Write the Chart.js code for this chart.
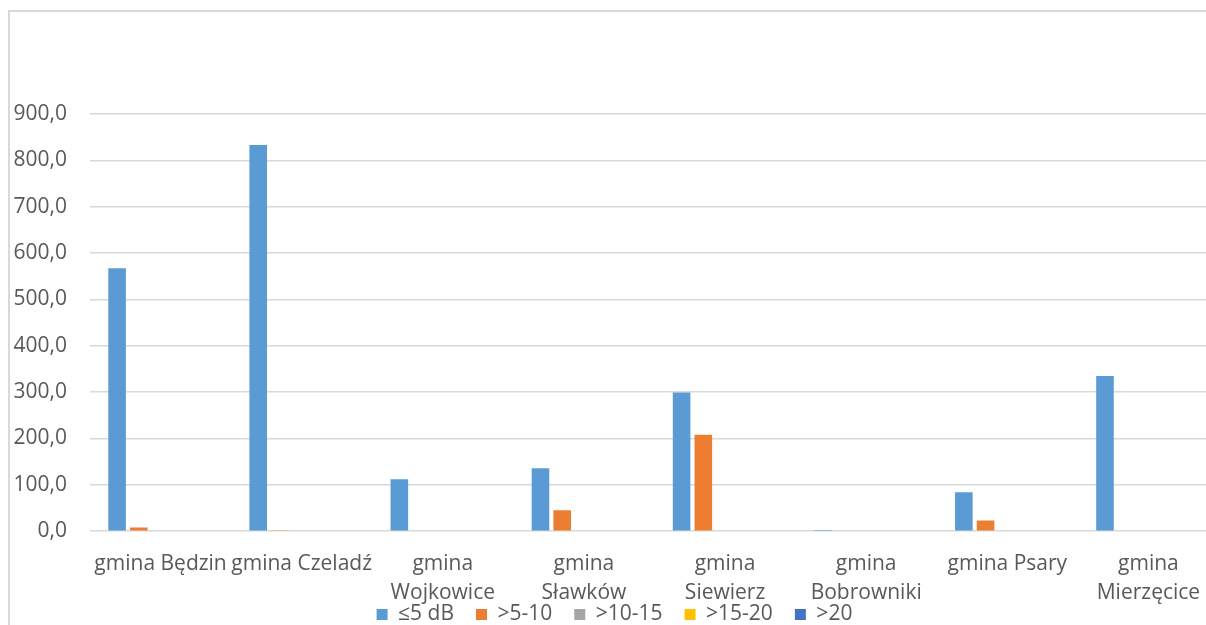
<!DOCTYPE html>
<html>
<head>
<meta charset="utf-8">
<script src="https://cdn.jsdelivr.net/npm/chart.js@4"></script>
<style>
  html, body { margin: 0; padding: 0; background: #fff; overflow: hidden; }
  #clip { position: relative; width: 1206px; height: 625px; overflow: hidden; background: #fff; }
  #frame { position: absolute; left: 8px; top: 10px; width: 1232px; height: 690px; border-top: 2px solid #d9d9d9; border-left: 2px solid #d9d9d9; box-sizing: border-box; background: #fff; }
  #wrap { position: absolute; left: 0; top: 0; width: 1230px; height: 667px; }
</style>
</head>
<body>
<div id="clip"><div id="frame"><div id="wrap"><canvas id="c"></canvas></div></div></div>
<script>
// Municipalities (gminy)
const categories = [
  'gmina Będzin',
  'gmina Czeladź',
  ['gmina', 'Wojkowice'],
  ['gmina', 'Sławków'],
  ['gmina', 'Siewierz'],
  ['gmina', 'Bobrowniki'],
  'gmina Psary',
  ['gmina', 'Mierzęcice']
];

// Noise-level exceedance bands
const seriesNames = ['≤5 dB', '>5-10', '>10-15', '>15-20', '>20'];

const le5   = [567, 833, 112, 136, 299, 0.5, 84, 335];
const gt5   = [8, 2, 0, 45, 208, 0, 23, 0];
const gt10  = [0, 0, 0, 0, 0, 0, 0, 0];
const gt15  = [0, 0, 0, 0, 0, 0, 0, 0];
const gt20  = [0, 0, 0, 0, 0, 0, 0, 0];

const yTicks = [0, 100, 200, 300, 400, 500, 600, 700, 800, 900];

const colors = ['#5B9BD5', '#ED7D31', '#A5A5A5', '#FFC000', '#4472C4'];
const values = [le5, gt5, gt10, gt15, gt20];

const FONT = '"Open Sans", sans-serif';
const GREY = '#595959';

// The legend sits tucked up against the category labels
const LEGEND_LIFT = 44;
const legendLift = {
  id: 'legendLift',
  afterLayout(chart) {
    const lg = chart.legend;
    if (lg) { lg.top -= LEGEND_LIFT; lg.bottom -= LEGEND_LIFT; }
  }
};

new Chart(document.getElementById('c'), {
  type: 'bar',
  data: {
    labels: categories,
    datasets: seriesNames.map((name, i) => ({
      label: name,
      data: values[i],
      backgroundColor: colors[i],
      borderWidth: 0,
      categoryPercentage: 0.77,
      barPercentage: 0.81
    }))
  },
  plugins: [legendLift],
  options: {
    responsive: true,
    maintainAspectRatio: false,
    animation: false,
    layout: { padding: { top: 102, left: 0, right: 21, bottom: 0 } },
    plugins: {
      tooltip: { enabled: false },
      legend: {
        position: 'bottom',
        labels: {
          boxWidth: 11,
          boxHeight: 11,
          padding: 22,
          color: GREY,
          font: { family: FONT, size: 21 }
        }
      }
    },
    scales: {
      x: {
        grid: { display: false, drawTicks: false },
        border: { display: false },
        ticks: {
          color: GREY,
          font: { family: FONT, size: 21, lineHeight: 1.4 },
          maxRotation: 0,
          minRotation: 0,
          autoSkip: false,
          padding: 18
        }
      },
      y: {
        min: 0,
        max: 900,
        afterBuildTicks: axis => { axis.ticks = yTicks.map(v => ({ value: v })); },
        afterFit: s => { s.width = 80; },
        grid: { color: '#d9d9d9', lineWidth: 1.5, drawTicks: false },
        border: { display: false },
        ticks: {
          color: GREY,
          font: { family: FONT, size: 21 },
          padding: 23,
          callback: v => v.toFixed(1).replace('.', ',')
        }
      }
    }
  }
});
</script>
</body>
</html>
